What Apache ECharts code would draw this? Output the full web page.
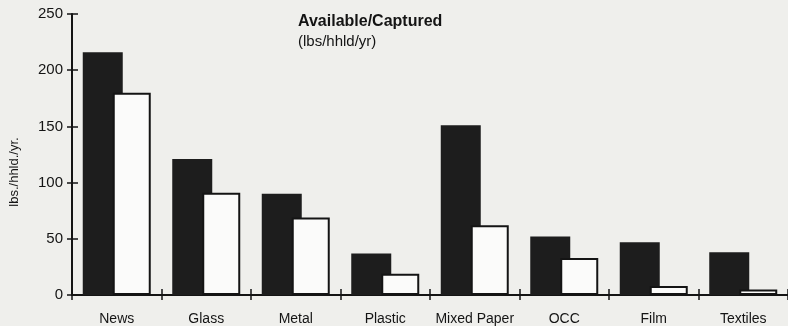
<!DOCTYPE html>
<html>
<head>
<meta charset="utf-8">
<script src="https://cdn.jsdelivr.net/npm/echarts@6/dist/echarts.min.js"></script>
<style>
  html, body { margin: 0; padding: 0; background: #efefec; }
  #chart { width: 788px; height: 326px; }
</style>
</head>
<body>
<div id="chart"></div>
<script>
// Material categories and pounds per household per year
const categories = ['News', 'Glass', 'Metal', 'Plastic', 'Mixed Paper', 'OCC', 'Film', 'Textiles'];
const available = [216, 121, 90, 37, 151, 52, 47, 38];
const captured = [180, 91, 69, 19, 62, 33, 8, 5];
const yTicks = [0, 50, 100, 150, 200, 250];

const FONT = '"Liberation Sans", Arial, Helvetica, sans-serif';
const INK = '#141414';

const chart = echarts.init(document.getElementById('chart'), null, { renderer: 'canvas' });

const baseX = {
  type: 'category',
  data: categories,
  position: 'bottom',
  boundaryGap: true,
  axisLine: { show: true, lineStyle: { color: INK, width: 2 } },
  splitLine: { show: false }
};

const baseY = {
  type: 'value',
  min: yTicks[0],
  max: yTicks[yTicks.length - 1],
  interval: yTicks[1] - yTicks[0],
  position: 'left',
  splitLine: { show: false }
};

chart.setOption({
  backgroundColor: '#efefec',
  animation: false,
  textStyle: { fontFamily: FONT },
  grid: { left: 72, right: -4, top: 14, bottom: 30, containLabel: false },
  title: {
    text: 'Available/Captured',
    subtext: '(lbs/hhld/yr)',
    left: 293,
    top: 9,
    itemGap: 4,
    textStyle: { fontFamily: FONT, fontSize: 16, fontWeight: 'bold', color: INK },
    subtextStyle: { fontFamily: FONT, fontSize: 15, color: INK }
  },
  xAxis: [
    Object.assign({}, baseX, {
      axisTick: { show: true, inside: false, length: 5, alignWithLabel: false, lineStyle: { color: INK, width: 1.5 } },
      axisLabel: { show: true, margin: 17, color: INK, fontSize: 14, fontFamily: FONT, interval: 0 }
    }),
    Object.assign({}, baseX, {
      axisLine: { show: false },
      axisTick: { show: true, inside: true, length: 6, lineStyle: { color: INK, width: 1.5 } },
      axisLabel: { show: false }
    })
  ],
  yAxis: [
    Object.assign({}, baseY, {
      axisLine: { show: true, lineStyle: { color: INK, width: 2 } },
      axisTick: { show: true, inside: false, length: 5, lineStyle: { color: INK, width: 1.5 } },
      axisLabel: { show: true, margin: 9, color: INK, fontSize: 15, fontFamily: FONT }
    }),
    Object.assign({}, baseY, {
      axisLine: { show: false },
      axisTick: { show: true, inside: true, length: 6, lineStyle: { color: INK, width: 1.5 } },
      axisLabel: { show: false }
    })
  ],
  graphic: [
    {
      type: 'text',
      x: 14,
      y: 172,
      rotation: Math.PI / 2,
      style: {
        text: 'lbs./hhld./yr.',
        font: '13px ' + FONT,
        fill: INK,
        align: 'center',
        verticalAlign: 'middle'
      }
    }
  ],
  series: [
    {
      name: 'Available',
      type: 'bar',
      xAxisIndex: 0,
      yAxisIndex: 0,
      data: available,
      barWidth: 40,
      barGap: '-25%',
      itemStyle: { color: '#1d1d1d' }
    },
    {
      name: 'Captured',
      type: 'bar',
      xAxisIndex: 0,
      yAxisIndex: 0,
      data: captured,
      barWidth: 38,
      itemStyle: { color: '#fbfbfa', borderColor: INK, borderWidth: 2 }
    }
  ]
});
</script>
</body>
</html>
